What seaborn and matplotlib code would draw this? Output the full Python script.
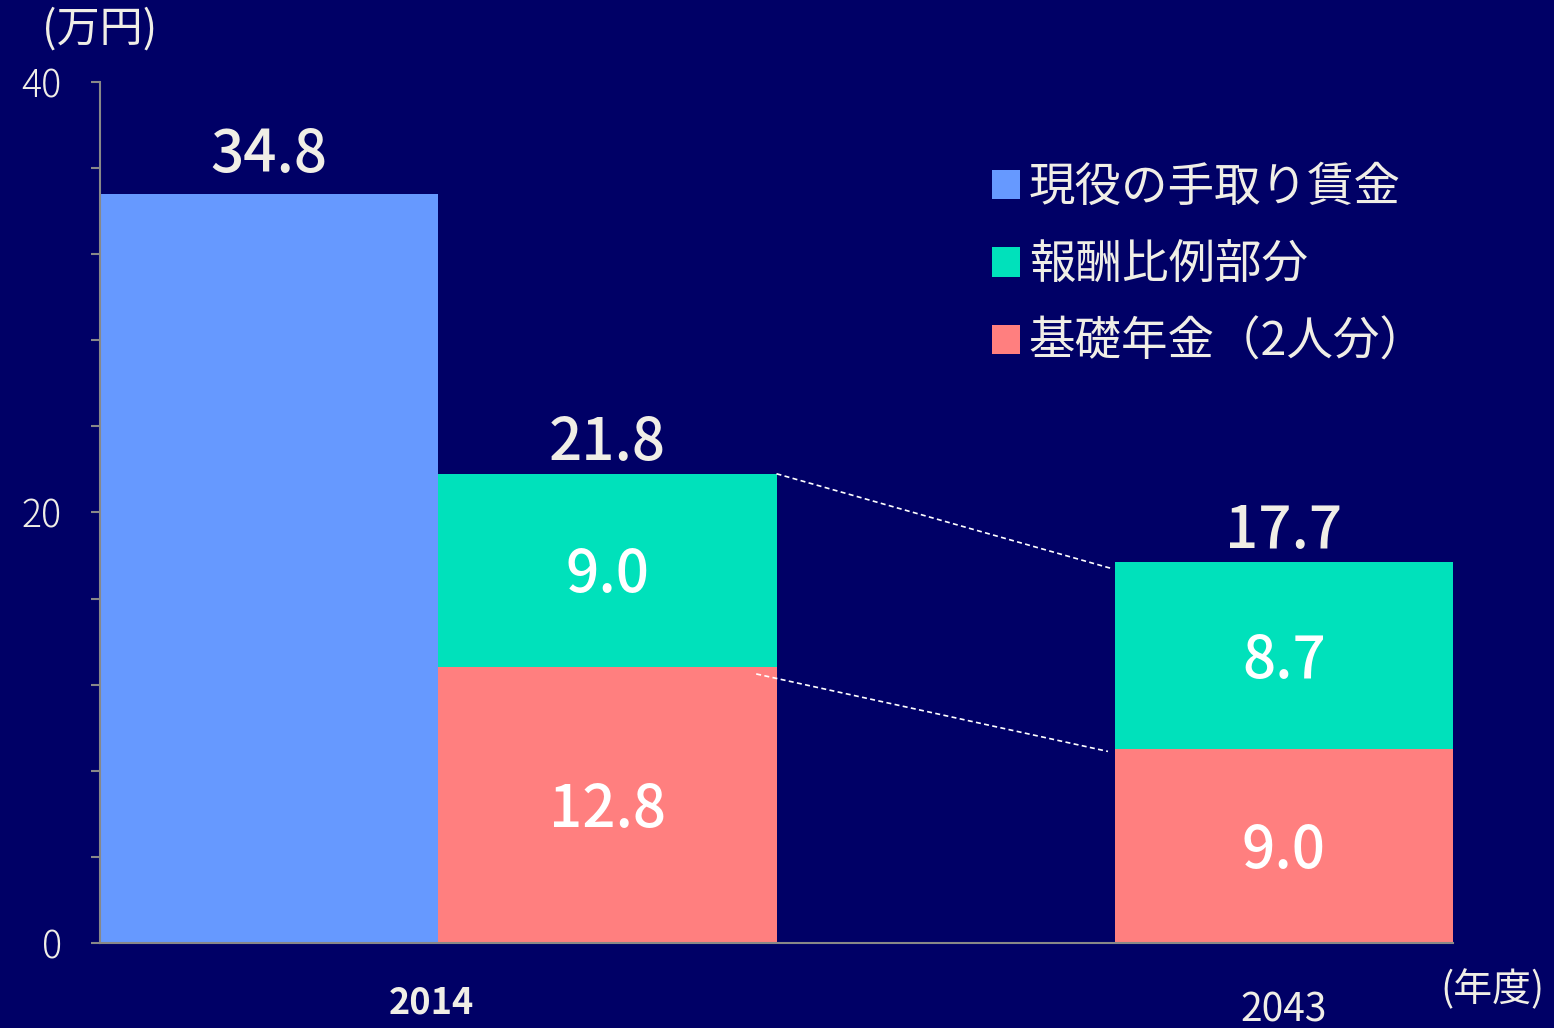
import matplotlib
matplotlib.use("Agg")
import matplotlib.pyplot as plt
import matplotlib.patches as mpatches
import pandas as pd
import seaborn as sns

# Data (万円)
slots = ["wage", "2014", "gap", "2043"]
wage_2014 = 34.8
basic_pension = [12.8, 9.0]      # 基礎年金（2人分） 2014, 2043
earnings_related = [9.0, 8.7]    # 報酬比例部分 2014, 2043
totals = [21.8, 17.7]
year_labels = ["2014", "2043"]
legend_labels = ["現役の手取り賃金", "報酬比例部分", "基礎年金（2人分）"]

BG = "#000066"
BLUE = "#6699FF"
GREEN = "#00E1BB"
PINK = "#FF7F7F"
TXT = "#F0EEE6"
FONT = ["Noto Sans CJK JP", "DejaVu Sans"]

sns.set_theme(style="white")
plt.rcParams["font.family"] = FONT

fig = plt.figure(figsize=(15.54, 10.28), dpi=100, facecolor=BG)
ax = fig.add_axes([100 / 1554, 1 - 943 / 1028, 1353 / 1554, (943 - 82) / 1028])
ax.set_facecolor(BG)

wage_df = pd.DataFrame({"slot": ["wage"], "value": [wage_2014]})
stack_df = pd.DataFrame({
    "slot": ["2014", "2043"],
    "total": totals,
    "basic": basic_pension,
})

sns.barplot(data=wage_df, x="slot", y="value", order=slots, color=BLUE,
            width=1.0, saturation=1, ax=ax)
sns.barplot(data=stack_df, x="slot", y="total", order=slots, color=GREEN,
            width=1.0, saturation=1, ax=ax)
sns.barplot(data=stack_df, x="slot", y="basic", order=slots, color=PINK,
            width=1.0, saturation=1, ax=ax)
for p in ax.patches:
    p.set_linewidth(0)

ax.set_xlim(-0.5, 3.5)
ax.set_ylim(0, 40)
ax.set_xlabel("")
ax.set_ylabel("")
ax.set_xticks([])
ax.set_yticks(range(0, 41, 4))
ax.set_yticklabels([str(v) if v % 20 == 0 else "" for v in range(0, 41, 4)])
ax.tick_params(axis="y", left=True, colors="#888888", length=6.5, width=1.5,
               labelcolor=TXT, labelsize=27, pad=21)
for lbl in ax.get_yticklabels():
    lbl.set_fontweight("light")
for s in ["top", "right"]:
    ax.spines[s].set_visible(False)
for s in ["left", "bottom"]:
    ax.spines[s].set_color("#888888")
    ax.spines[s].set_linewidth(1.5)

# value labels
kw = dict(ha="center", fontsize=42, fontweight="medium")
ax.text(0, wage_2014 + 0.4, f"{wage_2014:.1f}", va="bottom", color=TXT, **kw)
for i, x in enumerate([1, 3]):
    ax.text(x, totals[i] + 0.05, f"{totals[i]:.1f}", va="bottom", color=TXT, **kw)
    ax.text(x, basic_pension[i] + earnings_related[i] / 2 - 0.25,
            f"{earnings_related[i]:.1f}", va="center", color="white", **kw)
    ax.text(x, basic_pension[i] / 2 - 0.25, f"{basic_pension[i]:.1f}",
            va="center", color="white", **kw)

# dashed connectors
ax.plot([1.5, 2.49], [totals[0], totals[1] - 0.3], color="white", lw=1.2,
        ls=(0, (3, 2)))
ax.plot([1.44, 2.48], [basic_pension[0] - 0.3, basic_pension[1] - 0.1],
        color="white", lw=1.2, ls=(0, (3, 2)))

# x labels
trans = ax.get_xaxis_transform()
ax.text(0.48, -0.07, year_labels[0], transform=trans, ha="center", va="center",
        color=TXT, fontsize=26, fontweight="bold")
ax.text(3.0, -0.078, year_labels[1], transform=trans, ha="center", va="center",
        color=TXT, fontsize=28)
fig.text(1492 / 1554, 1 - 990 / 1028, "(年度)", ha="center", va="center",
         color=TXT, fontsize=28)
fig.text(100 / 1554, 1 - 30 / 1028, "(万円)", ha="center", va="center",
         color=TXT, fontsize=31)

handles = [mpatches.Patch(color=c, lw=0) for c in [BLUE, GREEN, PINK]]
leg = fig.legend(handles, legend_labels, loc="upper left",
                 bbox_to_anchor=(973 / 1554, 1 - 145 / 1028), frameon=False,
                 fontsize=33.5, handlelength=0.6, handleheight=0.6,
                 handletextpad=0.2, labelspacing=0.62, borderaxespad=0)
for t in leg.get_texts():
    t.set_color(TXT)

fig.savefig("out.png", dpi=100, facecolor=BG)
